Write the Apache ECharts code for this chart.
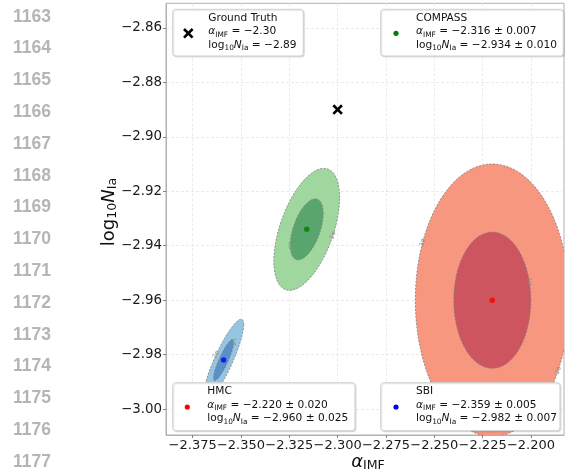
<!DOCTYPE html>
<html><head><meta charset="utf-8">
<script src="https://cdn.jsdelivr.net/npm/echarts@6/dist/echarts.min.js"></script>
<style>html,body{margin:0;padding:0;background:#fff}#c{width:567px;height:473px}</style>
</head><body><div id="c"></div>
<script>
// ---------------- data ----------------
const methods = ['COMPASS', 'HMC', 'SBI'];
const alphaMean = [-2.316, -2.220, -2.359];
const alphaErr = [0.007, 0.020, 0.005];
const logNMean = [-2.934, -2.960, -2.982];
const logNErr = [0.010, 0.025, 0.007];
// 1-sigma extents and correlation of the drawn contours
const ellipseSigmaAlpha = [0.0085, 0.0199, 0.0052];
const ellipseSigmaLogN = [0.0112, 0.0250, 0.0075];
const ellipseRho = [0.52, 0.0, 0.87];
const sigmaLevels = [2, 1];
const groundTruth = [-2.30, -2.89];
const xTicks = [-2.375, -2.350, -2.325, -2.300, -2.275, -2.250, -2.225, -2.200];
const yTicks = [-3.00, -2.98, -2.96, -2.94, -2.92, -2.90, -2.88, -2.86];
const lineNumbers = [1163, 1164, 1165, 1166, 1167, 1168, 1169, 1170, 1171, 1172, 1173, 1174, 1175, 1176, 1177];

// ---------------- styles ----------------
const FONT = 'DejaVu Sans';
const fills = {
  COMPASS: {2: '#a0d79e', 1: '#5aa56d'},
  HMC: {2: '#f8977f', 1: '#cd5560'},
  SBI: {2: '#96c5e2', 1: '#5a90c6'}
};
const dotColors = {COMPASS: '#008000', HMC: '#ff0000', SBI: '#0000ff'};
// contour label placements: parametric angle (deg) on each contour
const contourLabels = {
  COMPASS: [{k: 1, t: 180}, {k: 2, t: -37}],
  HMC: [{k: 2, t: 155}, {k: 1, t: 16}, {k: 2, t: -31}],
  SBI: [{k: 2, t: 112}, {k: 1, t: 5}]
};

const minus = s => s.replace(/-/g, '\u2212');
const fmt = (v, d) => minus(v.toFixed(d));

const chart = echarts.init(document.getElementById('c'), null, {renderer: 'canvas'});

const ellipseData = [];
methods.forEach((m, i) => sigmaLevels.forEach(k => ellipseData.push([alphaMean[i], logNMean[i], i, k])));

function ellipsePoint(api, i, k, t) {
  const r = ellipseRho[i], q = Math.sqrt(1 - r * r);
  const sx = ellipseSigmaAlpha[i] * k, sy = ellipseSigmaLogN[i] * k;
  return api.coord([alphaMean[i] + sx * Math.cos(t), logNMean[i] + sy * (r * Math.cos(t) + q * Math.sin(t))]);
}

function renderEllipse(params, api) {
  const i = api.value(2), k = api.value(3);
  const m = methods[i];
  const pts = [];
  for (let j = 0; j <= 160; j++) pts.push(ellipsePoint(api, i, k, j / 160 * 2 * Math.PI));
  const children = [{
    type: 'polygon',
    shape: {points: pts},
    style: {fill: fills[m][k], stroke: '#7a7a7a', lineWidth: 0.8, lineDash: [2, 1.5]}
  }];
  contourLabels[m].filter(c => c.k === k).forEach(c => {
    const t = c.t * Math.PI / 180;
    const p = ellipsePoint(api, i, k, t);
    const p2 = ellipsePoint(api, i, k, t + 0.01);
    let ang = Math.atan2(-(p2[1] - p[1]), p2[0] - p[0]);
    if (ang > Math.PI / 2) ang -= Math.PI;
    if (ang < -Math.PI / 2) ang += Math.PI;
    children.push({
      type: 'text', x: p[0], y: p[1], rotation: ang,
      style: {text: k + '\u03c3', fontSize: 6, fontFamily: FONT, fill: '#8a8a8a', align: 'center', verticalAlign: 'middle'}
    });
  });
  return {type: 'group', children};
}

function renderCross(params, api) {
  const p = api.coord([api.value(0), api.value(1)]);
  const s = 4.3;
  const st = {stroke: '#000', lineWidth: 2.6};
  return {type: 'group', children: [
    {type: 'line', shape: {x1: p[0] - s, y1: p[1] - s, x2: p[0] + s, y2: p[1] + s}, style: st},
    {type: 'line', shape: {x1: p[0] - s, y1: p[1] + s, x2: p[0] + s, y2: p[1] - s}, style: st}
  ]};
}

// ---------------- legend boxes ----------------
const richLegend = {
  t: {fontSize: 10.6, fontFamily: FONT, fill: '#111', lineHeight: 13.4},
  i: {fontSize: 10.6, fontFamily: FONT, fontStyle: 'italic', fill: '#111', lineHeight: 13.4},
  s: {fontSize: 7.4, fontFamily: FONT, fill: '#111', lineHeight: 6.5, verticalAlign: 'bottom'}
};
function legendText(title, a, n) {
  return '{t|' + title + '}\n{i|\u03b1}{s|IMF}{t| = ' + a + '}\n{t|log}{s|10}{i|N}{s|Ia}{t| = ' + n + '}';
}
const legends = [
  {box: [172.7, 9.3, 130.6, 46.7], tx: 208.3, ty: 11.6, marker: 'cross', mx: 188.3, my: 33.3,
   text: legendText('Ground Truth', fmt(groundTruth[0], 2), fmt(groundTruth[1], 2))}
];
const legendBoxes = {
  COMPASS: {box: [380.7, 9.3, 182.6, 46.7], tx: 416, ty: 11.6, mx: 396, my: 33.3},
  HMC: {box: [172.7, 382.7, 182.3, 48], tx: 207.3, ty: 385, mx: 187.3, my: 407},
  SBI: {box: [380.7, 382.7, 179.3, 48], tx: 416, ty: 385, mx: 396, my: 407}
};
methods.forEach((m, i) => {
  const b = legendBoxes[m];
  legends.push(Object.assign({marker: 'dot', color: dotColors[m],
    text: legendText(m, fmt(alphaMean[i], 3) + ' \u00b1 ' + alphaErr[i].toFixed(3),
                     fmt(logNMean[i], 3) + ' \u00b1 ' + logNErr[i].toFixed(3))}, b));
});

const graphics = [];
legends.forEach(l => {
  graphics.push({type: 'rect', z: 100, shape: {x: l.box[0], y: l.box[1], width: l.box[2], height: l.box[3], r: 3},
    style: {fill: '#fff', stroke: '#cfcfcf', lineWidth: 1, shadowColor: 'rgba(0,0,0,0.12)', shadowOffsetX: 1, shadowOffsetY: 1, shadowBlur: 1}});
  graphics.push({type: 'text', z: 101, x: l.tx, y: l.ty, style: {text: l.text, rich: richLegend, align: 'left', verticalAlign: 'top'}});
  if (l.marker === 'cross') {
    const s = 4.3;
    graphics.push({type: 'line', z: 101, shape: {x1: l.mx - s, y1: l.my - s, x2: l.mx + s, y2: l.my + s}, style: {stroke: '#000', lineWidth: 2.6}});
    graphics.push({type: 'line', z: 101, shape: {x1: l.mx - s, y1: l.my + s, x2: l.mx + s, y2: l.my - s}, style: {stroke: '#000', lineWidth: 2.6}});
  } else {
    graphics.push({type: 'circle', z: 101, shape: {cx: l.mx, cy: l.my, r: 2.6}, style: {fill: l.color}});
  }
});
// axis titles
graphics.push({type: 'text', x: 368, y: 462, style: {
  text: '{i|\u03b1}{s|IMF}', align: 'center', verticalAlign: 'middle',
  rich: {i: {fontSize: 18, fontFamily: FONT, fontStyle: 'italic', fill: '#111', lineHeight: 20},
         s: {fontSize: 12.6, fontFamily: FONT, fill: '#111', lineHeight: 10, verticalAlign: 'bottom'}}}});
graphics.push({type: 'text', x: 109, y: 212, rotation: Math.PI / 2, style: {
  text: '{t|log}{s|10}{i|N}{s|Ia}', align: 'center', verticalAlign: 'middle',
  rich: {t: {fontSize: 18, fontFamily: FONT, fill: '#111', lineHeight: 20},
         i: {fontSize: 18, fontFamily: FONT, fontStyle: 'italic', fill: '#111', lineHeight: 20},
         s: {fontSize: 12.6, fontFamily: FONT, fill: '#111', lineHeight: 10, verticalAlign: 'bottom'}}}});
// line numbers
lineNumbers.forEach((n, j) => graphics.push({type: 'text', x: 13, y: 16.7 + j * 31.8, style: {
  text: String(n), fontSize: 17.5, fontWeight: 'bold', fontFamily: 'Liberation Sans', fill: '#b5b5b5', align: 'left', verticalAlign: 'middle'}}));

const axisCommon = {
  type: 'value',
  axisLine: {show: true, lineStyle: {color: '#b0b0b0', width: 1}},
  axisTick: {show: true, length: 3, lineStyle: {color: '#666', width: 0.8}},
  splitLine: {show: true, lineStyle: {color: '#e6e6e6', width: 0.8, type: [3, 2]}},
  axisLabel: {fontSize: 13, fontFamily: FONT, color: '#1a1a1a', margin: 4}
};

chart.setOption({
  animation: false,
  backgroundColor: '#fff',
  grid: {left: 166, right: 3, top: 3.3, bottom: 38, show: true, borderColor: '#b0b0b0', borderWidth: 1, containLabel: false},
  xAxis: echarts.util.merge({
    min: -2.3888, max: -2.1829,
    axisTick: {customValues: xTicks},
    axisLabel: {customValues: xTicks, formatter: v => fmt(v, 3)}
  }, axisCommon),
  yAxis: echarts.util.merge({
    min: -3.0095, max: -2.851,
    axisTick: {customValues: yTicks},
    axisLabel: {customValues: yTicks, formatter: v => fmt(v, 2), margin: 4, fontSize: 13.4}
  }, axisCommon),
  series: [
    {type: 'custom', renderItem: renderEllipse, data: ellipseData, encode: {x: 0, y: 1}, clip: true, z: 2, silent: true},
    {type: 'scatter', data: methods.map((m, i) => ({value: [alphaMean[i], logNMean[i]], itemStyle: {color: dotColors[m]}})),
     symbolSize: 5.5, z: 3, silent: true},
    {type: 'custom', renderItem: renderCross, data: [groundTruth], encode: {x: 0, y: 1}, z: 4, silent: true}
  ],
  graphic: graphics
});
</script>
</body></html>
